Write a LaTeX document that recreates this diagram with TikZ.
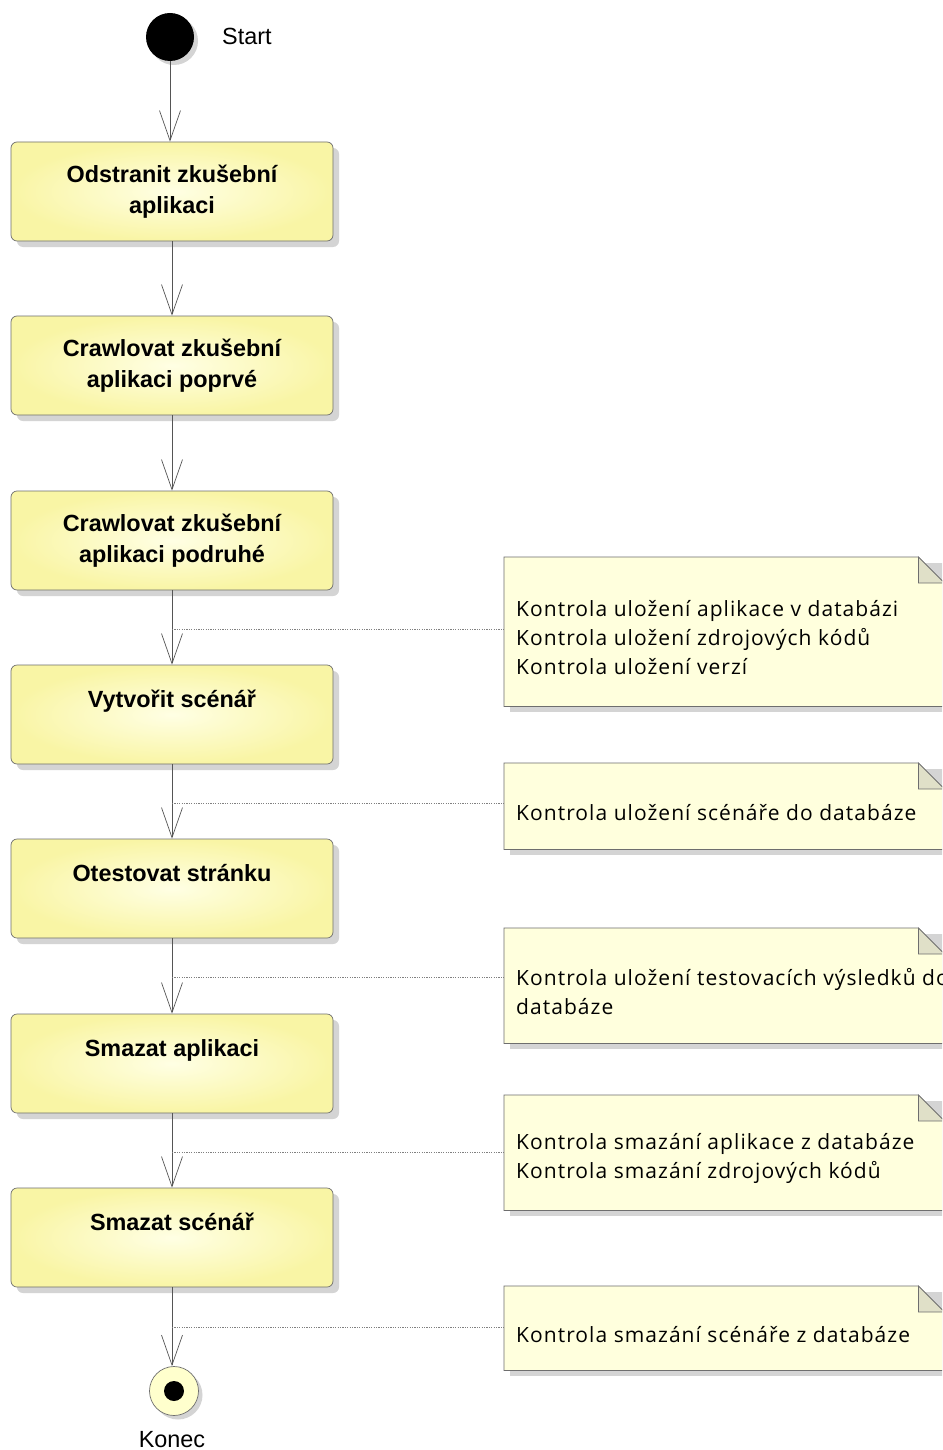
\documentclass[tikz,border=0pt]{standalone}
\usepackage{fontspec}
\setmainfont{Liberation Sans}
\newfontfamily\notefont[LetterSpace=5]{Open Sans}
\usetikzlibrary{arrows.meta,shadows}

\definecolor{boxedge}{RGB}{249,245,165}
\definecolor{boxlight}{RGB}{255,255,228}
\definecolor{notefill}{RGB}{255,255,221}
\definecolor{foldfill}{RGB}{224,224,200}
\definecolor{linegray}{RGB}{85,85,85}
\definecolor{bordergray}{RGB}{110,110,110}
\definecolor{shadowgray}{RGB}{212,212,212}
\definecolor{endfill}{RGB}{255,255,205}

\begin{document}
\begin{tikzpicture}[x=1pt,y=-1pt,
  flow/.style={draw=linegray, line width=0.7pt,
    -{Straight Barb[length=30pt,width=21pt,line width=0.7pt]}},
  noteline/.style={draw=gray, line width=0.6pt, dash pattern=on 1.2pt off 1.2pt},
  action/.style={draw=bordergray, line width=0.7pt, rounded corners=6pt,
    minimum width=322pt, minimum height=99pt,
    inner color=boxlight, outer color=boxedge,
    general shadow={fill=shadowgray, shadow xshift=6pt, shadow yshift=-6pt},
    font=\bfseries\fontsize{23.4}{31}\selectfont, align=center, text=black},
  notebox/.style={anchor=north west, minimum width=440pt, inner sep=0pt},
  notetext/.style={anchor=west, align=left, inner sep=0pt,
    font=\notefont\fontsize{21}{29}\selectfont},
  caption/.style={font=\fontsize{23.4}{28}\selectfont, inner sep=0pt},
  startdot/.style={circle, fill=black, minimum size=48pt, inner sep=0pt,
    general shadow={fill=shadowgray, shadow xshift=4pt, shadow yshift=-4pt}},
  enddot/.style={circle, draw=bordergray, line width=0.7pt, fill=endfill,
    minimum size=49pt, inner sep=0pt,
    general shadow={fill=shadowgray, shadow xshift=4pt, shadow yshift=-4pt}},
  enddotin/.style={circle, fill=black, minimum size=20pt, inner sep=0pt}
]
\useasboundingbox (0,0) rectangle (942,1450);
\fill[white] (0,0) rectangle (942,1450);
\clip (0,0) rectangle (942,1450);

% folded-corner note drawn around a named geometry node
\newcommand\foldnote[1]{%
  \fill[shadowgray] ([shift={(6,6)}]#1.north west) rectangle ([shift={(6,6)}]#1.south east);
  \filldraw[draw=bordergray, line width=0.7pt, fill=notefill]
    (#1.north west) -- ([xshift=-26pt]#1.north east) -- ([yshift=-26pt]#1.north east)
    -- (#1.south east) -- (#1.south west) -- cycle;
  \filldraw[draw=bordergray, line width=0.7pt, fill=foldfill]
    ([xshift=-26pt]#1.north east) -- ([xshift=-26pt,yshift=-26pt]#1.north east)
    -- ([yshift=-26pt]#1.north east) -- cycle;}

% initial and final states
\node[startdot] (s) at (170,37) {};
\node[caption, anchor=west] (slabel) at (222,36) {Start};

% activities
\node[action] (b1) at (172,191.5) {Odstranit zkušební\\aplikaci};
\node[action] (b2) at (172,365.5) {Crawlovat zkušební\\aplikaci poprvé};
\node[action] (b3) at (172,540.5) {Crawlovat zkušební\\aplikaci podruhé};
\node[action] (b4) at (172,714.5) {Vytvořit scénář\\\mbox{}};
\node[action] (b5) at (172,888.5) {Otestovat stránku\\\mbox{}};
\node[action] (b6) at (172,1063.5) {Smazat aplikaci\\\mbox{}};
\node[action] (b7) at (172,1237.5) {Smazat scénář\\\mbox{}};

\node[enddot] (e) at (174,1391) {};
\node[enddotin] (ein) at (e.center) {};
\node[caption] (elabel) at (172,1440) {Konec};

% control flow
\draw[flow] (s.south) -- (s.south |- b1.north);
\draw[flow] (b1.south) -- (b2.north);
\draw[flow] (b2.south) -- (b3.north);
\draw[flow] (b3.south) -- (b4.north);
\draw[flow] (b4.south) -- (b5.north);
\draw[flow] (b5.south) -- (b6.north);
\draw[flow] (b6.south) -- (b7.north);
\draw[flow] (b7.south) -- (b7.south |- e.north);

% notes
\node[notebox, minimum height=149pt] (n1) at (504,557) {};
\node[notebox, minimum height=86pt]  (n2) at (504,763) {};
\node[notebox, minimum height=115pt] (n3) at (504,928) {};
\node[notebox, minimum height=115pt] (n4) at (504,1095) {};
\node[notebox, minimum height=84pt]  (n5) at (504,1286) {};
\foldnote{n1}\foldnote{n2}\foldnote{n3}\foldnote{n4}\foldnote{n5}

\node[notetext] (t1) at ([xshift=12pt,yshift=-6pt]n1.west)
  {Kontrola uložení aplikace v databázi\\Kontrola uložení zdrojových kódů\\Kontrola uložení verzí};
\node[notetext] (t2) at ([xshift=12pt,yshift=-6pt]n2.west)
  {Kontrola uložení scénáře do databáze};
\node[notetext] (t3) at ([xshift=12pt,yshift=-6pt]n3.west)
  {Kontrola uložení testovacích výsledků do\\databáze};
\node[notetext] (t4) at ([xshift=12pt,yshift=-6pt]n4.west)
  {Kontrola smazání aplikace z databáze\\Kontrola smazání zdrojových kódů};
\node[notetext] (t5) at ([xshift=12pt,yshift=-6pt]n5.west)
  {Kontrola smazání scénáře z databáze};

% note attachments
\coordinate (c1) at (172,629);
\coordinate (c2) at (172,803);
\coordinate (c3) at (172,977);
\coordinate (c4) at (172,1152);
\coordinate (c5) at (172,1327);
\draw[noteline] (c1) -- (c1 -| n1.west);
\draw[noteline] (c2) -- (c2 -| n2.west);
\draw[noteline] (c3) -- (c3 -| n3.west);
\draw[noteline] (c4) -- (c4 -| n4.west);
\draw[noteline] (c5) -- (c5 -| n5.west);
\end{tikzpicture}
\end{document}
